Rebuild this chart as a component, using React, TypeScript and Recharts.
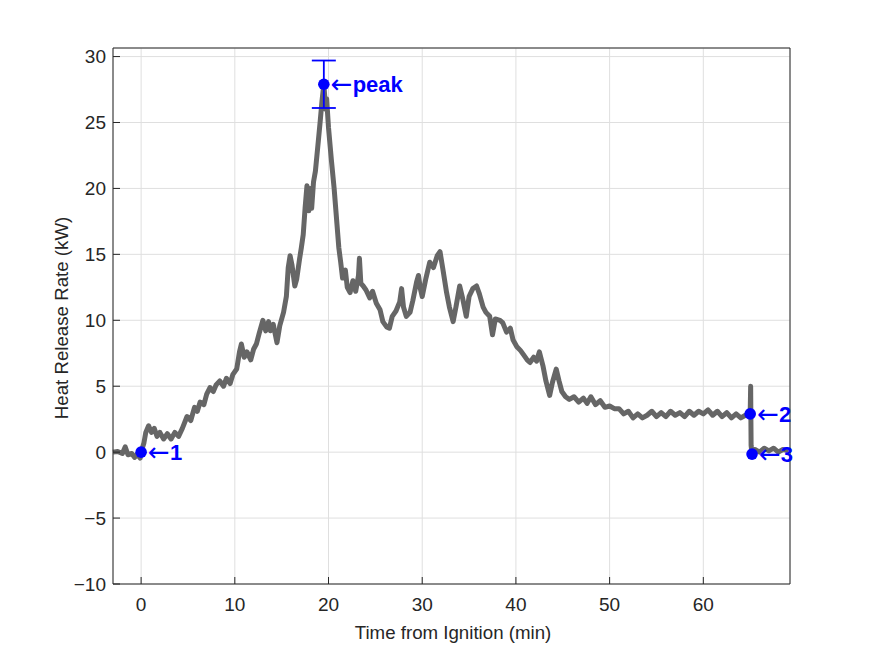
import React from "react";
import {
  ComposedChart,
  Line,
  Scatter,
  ErrorBar,
  XAxis,
  YAxis,
  CartesianGrid,
} from "recharts";

// Heat release rate trace
const timeMin = [
  -3.0, -2.5, -2.0, -1.7, -1.4, -1.0, -0.7, -0.4, -0.1, 0.0,
  0.3, 0.5, 0.8, 1.1, 1.4, 1.7, 2.0, 2.4, 2.8, 3.2,
  3.6, 4.0, 4.4, 4.9, 5.3, 5.7, 6.0, 6.3, 6.7, 7.0,
  7.35, 7.7, 8.0, 8.4, 8.8, 9.1, 9.5, 9.8, 10.2, 10.5,
  10.7, 11.0, 11.3, 11.7, 12.0, 12.3, 12.6, 13.0, 13.3, 13.6,
  13.8, 14.1, 14.5, 14.8, 15.2, 15.5, 15.7, 15.9, 16.1, 16.4,
  16.6, 16.9, 17.1, 17.3, 17.5, 17.7, 17.9, 18.1, 18.2, 18.4,
  18.6, 18.9, 19.1, 19.3, 19.5, 19.7, 19.8, 20.0, 20.3, 20.6,
  20.9, 21.1, 21.3, 21.5, 21.8, 22.0, 22.3, 22.6, 22.9, 23.2,
  23.3, 23.45, 23.7, 24.0, 24.4, 24.7, 25.1, 25.5, 25.8, 26.2,
  26.5, 26.8, 27.2, 27.6, 27.8, 28.0, 28.3, 28.7, 29.0, 29.4,
  29.6, 29.8, 30.0, 30.4, 30.8, 31.2, 31.6, 31.9, 32.2, 32.6,
  32.9, 33.3, 33.6, 34.0, 34.3, 34.7, 35.0, 35.4, 35.8, 36.1,
  36.5, 36.8, 37.2, 37.5, 37.8, 38.3, 38.6, 39.0, 39.4, 39.7,
  40.1, 40.5, 40.9, 41.2, 41.5, 41.9, 42.2, 42.5, 42.9, 43.2,
  43.6, 43.9, 44.3, 44.6, 44.9, 45.3, 45.7, 46.2, 46.7, 47.2,
  47.6, 48.0, 48.5, 49.0, 49.5, 50.0, 50.5, 51.0, 51.5, 52.0,
  52.5, 53.0, 53.5, 54.0, 54.5, 55.0, 55.5, 56.0, 56.5, 57.0,
  57.5, 58.0, 58.5, 59.0, 59.5, 60.0, 60.5, 61.0, 61.5, 62.0,
  62.5, 63.0, 63.5, 64.0, 64.5, 65.0, 65.05, 65.1, 65.2, 65.5,
  66.0, 66.5, 67.0, 67.5, 68.0, 68.5, 69.2,
];

const hrrKw = [
  0.0, 0.05, -0.1, 0.4, -0.2, -0.1, -0.4, -0.15, -0.45, 0.0,
  0.7, 1.5, 2.0, 1.5, 1.8, 1.2, 1.5, 1.0, 1.4, 1.0,
  1.5, 1.2, 1.8, 2.7, 2.4, 3.4, 3.1, 3.8, 3.6, 4.4,
  4.9, 4.6, 5.1, 5.4, 5.0, 5.6, 5.2, 5.9, 6.3, 7.6,
  8.2, 7.2, 7.6, 7.0, 7.8, 8.2, 9.0, 10.0, 9.2, 9.9,
  9.2, 9.7, 8.3, 9.6, 10.6, 11.8, 14.0, 14.9, 14.2, 12.6,
  13.1, 14.6, 15.5, 16.5, 18.5, 20.2, 18.3, 20.0, 18.5, 20.5,
  21.3, 23.5, 25.0, 26.6, 27.9, 26.0, 26.8, 24.6, 22.2, 20.0,
  17.3, 15.5, 14.4, 13.2, 13.8, 12.5, 12.1, 13.0, 12.2, 13.4,
  14.7, 12.8, 12.6, 12.3, 11.7, 12.2, 11.3, 10.8, 9.9, 9.5,
  9.4, 10.3, 10.7, 11.4, 12.4, 11.0, 10.3, 10.6, 11.5, 12.9,
  13.4, 12.4, 11.8, 13.2, 14.4, 14.0, 14.9, 15.2, 13.9, 12.1,
  11.0, 9.9, 11.0, 12.6, 11.7, 10.3, 11.8, 12.4, 12.6, 12.0,
  11.0, 10.6, 10.3, 8.9, 10.1, 10.0, 9.8, 9.1, 9.4, 8.5,
  8.0, 7.7, 7.3, 7.0, 6.8, 7.2, 6.9, 7.6, 6.5, 5.4,
  4.3, 5.3, 6.3, 5.4, 4.6, 4.2, 4.0, 4.2, 3.8, 4.1,
  3.7, 4.2, 3.6, 3.9, 3.4, 3.5, 3.3, 3.3, 2.9, 3.1,
  2.6, 2.9, 2.6, 2.8, 3.1, 2.7, 3.0, 2.7, 3.1, 2.8,
  3.0, 2.7, 3.1, 2.8, 3.1, 2.9, 3.2, 2.8, 3.1, 2.7,
  3.0, 2.6, 2.9, 2.6, 2.8, 2.9, 5.0, 0.5, -0.15, 0.2,
  0.0, 0.3, 0.1, 0.3, 0.0, 0.2, 0.1,
];

// annotated points
const markLabels = ["1", "2", "3"];
const markTime = [0, 65.0, 65.2];
const markHrr = [0, 2.9, -0.15];

const peakLabel = "peak";
const peakTime = 19.5;
const peakHrr = 27.9;
const peakErr = 1.8;

const xTicks = [0, 10, 20, 30, 40, 50, 60];
const yTicks = [-10, -5, 0, 5, 10, 15, 20, 25, 30];

const FONT = "'Liberation Sans', Arial, Helvetica, sans-serif";
const AXIS = "#262626";
const BLUE = "#0000ff";

const curve = timeMin.map((t, i) => ({ t, v: hrrKw[i] }));
const marks = markTime.map((t, i) => ({ t, v: markHrr[i], label: markLabels[i] }));
const peak = [{ t: peakTime, v: peakHrr, err: peakErr, label: peakLabel }];

// matlab-style minus sign on negative ticks
const fmtTick = (v: number) => (v < 0 ? `\u2212${Math.abs(v)}` : `${v}`);

// blue dot with a "←label" note to its right
function Marker(props: any) {
  const { cx, cy, payload } = props;
  if (cx == null || cy == null) return null;
  return (
    <g>
      <circle cx={cx} cy={cy} r={5.8} fill={BLUE} />
      <text
        x={cx + 7}
        y={cy}
        dominantBaseline="central"
        fill={BLUE}
        fontFamily={FONT}
        fontSize={22}
      >
        <tspan fontFamily="'DejaVu Sans', sans-serif" fontSize={26}>
          ←
        </tspan>
        <tspan fontWeight="bold">{payload.label}</tspan>
      </text>
    </g>
  );
}

export default function App() {
  const tickStyle = { fill: AXIS, fontSize: 19, fontFamily: FONT };

  return (
    <div
      style={{
        position: "absolute",
        left: 0,
        top: 0,
        width: 875,
        height: 656,
        background: "#fff",
        fontFamily: FONT,
      }}
    >
      <ComposedChart
        width={875}
        height={656}
        data={curve}
        margin={{ top: 43, right: 80, left: 53, bottom: 32 }}
      >
        <CartesianGrid stroke="#dfdfdf" strokeWidth={1} />

        <XAxis
          type="number"
          dataKey="t"
          domain={[-3, 69.25]}
          ticks={xTicks}
          interval={0}
          height={40}
          tickSize={-7}
          tickMargin={21}
          stroke={AXIS}
          tick={tickStyle}
        />
        <XAxis
          xAxisId="top"
          orientation="top"
          type="number"
          domain={[-3, 69.25]}
          ticks={xTicks}
          interval={0}
          height={5}
          tickSize={-7}
          stroke={AXIS}
          tick={false}
        />
        <YAxis
          type="number"
          dataKey="v"
          domain={[-10, 30.65]}
          ticks={yTicks}
          interval={0}
          width={60}
          tickSize={-7}
          tickMargin={14}
          stroke={AXIS}
          tick={tickStyle}
          tickFormatter={fmtTick}
        />
        <YAxis
          yAxisId="right"
          orientation="right"
          type="number"
          domain={[-10, 30.65]}
          ticks={yTicks}
          interval={0}
          width={5}
          tickSize={-7}
          stroke={AXIS}
          tick={false}
        />

        <Line
          type="linear"
          dataKey="v"
          stroke="#666666"
          strokeWidth={5}
          strokeLinejoin="round"
          dot={false}
          activeDot={false}
          isAnimationActive={false}
        />

        <Scatter data={peak} shape={<Marker />} isAnimationActive={false}>
          <ErrorBar
            dataKey="err"
            direction="y"
            width={12}
            stroke={BLUE}
            strokeWidth={1.8}
            isAnimationActive={false}
          />
        </Scatter>
        <Scatter data={marks} shape={<Marker />} isAnimationActive={false} />
      </ComposedChart>

      <div
        style={{
          position: "absolute",
          left: 453,
          top: 633,
          transform: "translate(-50%, -50%)",
          whiteSpace: "nowrap",
          fontSize: 18.7,
          color: AXIS,
        }}
      >
        Time from Ignition (min)
      </div>
      <div
        style={{
          position: "absolute",
          left: 62,
          top: 318,
          transform: "translate(-50%, -50%) rotate(-90deg)",
          whiteSpace: "nowrap",
          fontSize: 18.7,
          color: AXIS,
        }}
      >
        Heat Release Rate (kW)
      </div>
    </div>
  );
}
